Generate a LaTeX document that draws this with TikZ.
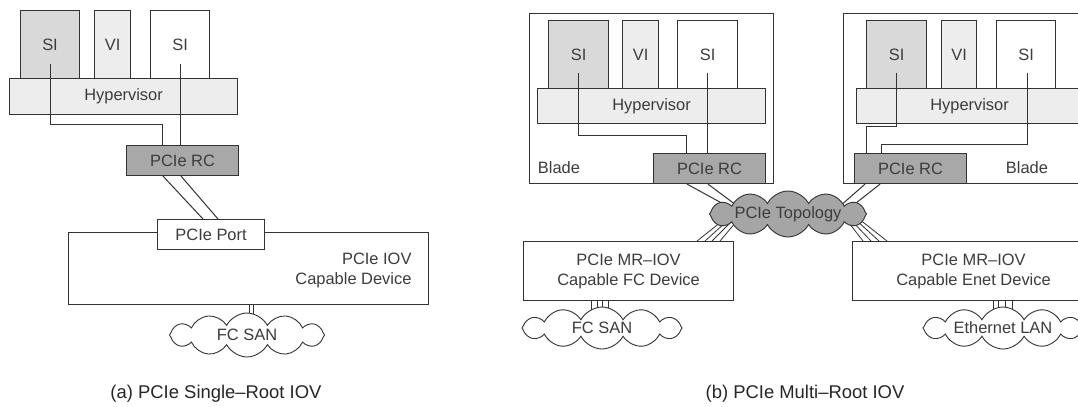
\documentclass[tikz,border=0pt]{standalone}
\usepackage{fontspec}
\setmainfont{Liberation Sans}
\usetikzlibrary{shapes.symbols,backgrounds}
\definecolor{ln}{HTML}{333333}
\definecolor{tx}{HTML}{3C3C3C}
\definecolor{siG}{HTML}{D9D9D9}
\definecolor{viG}{HTML}{EDEDED}
\definecolor{rcG}{HTML}{A8A8A8}
\definecolor{topG}{HTML}{A5A5A5}
\begin{document}
\begin{tikzpicture}[x=1bp,y=-1bp,
  every node/.style={font=\fontsize{16.5}{20}\selectfont, text=tx},
  box/.style={draw=ln, line width=1.1bp, rectangle, inner sep=0pt, anchor=north west},
  conn/.style={draw=ln, line width=1bp},
  cloudy/.style={cloud, cloud puffs=12, cloud puff arc=125, cloud ignores aspect,
    draw=ln, line width=0.9bp, fill=white, minimum width=158bp, minimum height=42bp, inner sep=0pt},
  captext/.style={font=\fontsize{18.5}{22}\selectfont, text=black!85, anchor=base}
]
\useasboundingbox (0,0) rectangle (1078,406);
\begin{scope}
\clip (0,0) rectangle (1078,406);
% ---------- (a) single root ----------
\node[box, fill=siG, minimum width=59bp, minimum height=68bp] (SI1a) at (20,10) {SI};
\node[box, fill=viG, minimum width=36bp, minimum height=68bp] (VIa) at (94,10) {VI};
\node[box, fill=white, minimum width=59bp, minimum height=68bp] (SI2a) at (150,10) {SI};
\node[box, fill=viG, minimum width=228bp, minimum height=36bp] (Hypa) at (9,78) {Hypervisor};
\node[box, fill=rcG, minimum width=112bp, minimum height=30bp] (RCa) at (126,145) {PCIe RC};
\node[box, minimum width=360bp, minimum height=72bp] (Deva) at (68,232) {};
\node[anchor=east, align=right] (DevaT) at (415,270) {PCIe IOV\\Capable Device};
\node[box, fill=white, minimum width=107bp, minimum height=30bp] (Porta) at (157,219) {PCIe Port};
\node[cloudy, minimum width=155bp, minimum height=44bp] (SANa) at (247,335) {FC SAN};

\draw[conn] ([yshift=-19bp]SI1a.center) |- ([xshift=36bp,yshift=21bp]RCa.north west) -- ([xshift=36bp]RCa.north west);
\draw[conn] ([yshift=-19bp]SI2a.center) -- (SI2a.center |- RCa.north);
\draw[conn] ([xshift=37bp]RCa.south west) -- ([xshift=46bp]Porta.north west);
\draw[conn] ([xshift=55bp]RCa.south west) -- ([xshift=61bp]Porta.north west);

% ---------- (b) multi root ----------
\node[box, minimum width=244bp, minimum height=170bp] (Blade1) at (529,13) {};
\node[box, fill=siG, minimum width=60bp, minimum height=68bp] (SI1b) at (548,20) {SI};
\node[box, fill=viG, minimum width=36bp, minimum height=68bp] (VIb) at (622,20) {VI};
\node[box, fill=white, minimum width=60bp, minimum height=68bp] (SI2b) at (677,20) {SI};
\node[box, fill=viG, minimum width=228bp, minimum height=35bp] (Hypb) at (537,88) {Hypervisor};
\node[box, fill=rcG, minimum width=112bp, minimum height=30bp] (RCb1) at (653,153) {PCIe RC};
\node (Blade1T) at (559,168) {Blade};
\draw[conn] ([yshift=-18bp]SI1b.center) |- ([xshift=33bp,yshift=18bp]RCb1.north west) -- ([xshift=33bp]RCb1.north west);
\draw[conn] ([yshift=-18bp]SI2b.center) -- (SI2b.center |- RCb1.north);

\node[box, minimum width=250bp, minimum height=170bp] (Blade2) at (843,13) {};
\node[box, fill=siG, minimum width=60bp, minimum height=68bp] (SI1c) at (866,20) {SI};
\node[box, fill=viG, minimum width=35bp, minimum height=68bp] (VIc) at (941,20) {VI};
\node[box, fill=white, minimum width=59bp, minimum height=68bp] (SI2c) at (996,20) {SI};
\node[box, fill=viG, minimum width=226bp, minimum height=35bp] (Hypc) at (856,88) {Hypervisor};
\node[box, fill=rcG, minimum width=112bp, minimum height=30bp] (RCb2) at (854,153) {PCIe RC};
\node (Blade2T) at (1027,168) {Blade};
\draw[conn] ([yshift=-18bp]SI1c.center) |- ([xshift=12bp,yshift=27bp]RCb2.north west) -- ([xshift=12bp]RCb2.north west);
\draw[conn] ([xshift=1.5bp,yshift=-18bp]SI2c.center) |- ([xshift=27bp,yshift=9bp]RCb2.north west) -- ([xshift=27bp]RCb2.north west);

\node[cloudy, fill=topG, minimum width=157bp, minimum height=46bp] (Topo) at (788,214) {PCIe Topology};

\node[box, align=center, minimum width=210bp, minimum height=59bp] (FCb) at (523,241) {PCIe MR–IOV\\Capable FC Device};
\node[box, align=center, minimum width=242bp, minimum height=59bp] (Enet) at (852,241) {PCIe MR–IOV\\Capable Enet Device};
\node[cloudy, minimum width=160bp] (SANb) at (602,328) {FC SAN};
\node[cloudy, minimum width=160bp] (LAN) at (1003,328) {Ethernet LAN};

% captions
\node[captext] (capA) at (216,398) {(a) PCIe Single–Root IOV};
\node[captext] (capB) at (805,398) {(b) PCIe Multi–Root IOV};
\end{scope}

\begin{pgfonlayer}{background}
\fill[white] (0,0) rectangle (1078,406);
% (a) device to SAN
\draw[conn] ([xshift=1bp]Deva.south) -- ([xshift=1bp]Deva.south |- SANa.center);
\draw[conn] ([xshift=5bp]Deva.south) -- ([xshift=5bp]Deva.south |- SANa.center);
% RCs to topology
\draw[conn] ([xshift=34bp]RCb1.south west) -- ([xshift=-48bp,yshift=1bp]Topo.center);
\draw[conn] ([xshift=55bp]RCb1.south west) -- ([xshift=-48bp,yshift=6bp]Topo.center);
\draw[conn] ([xshift=11bp]RCb2.south west) -- ([xshift=51bp,yshift=7bp]Topo.center);
\draw[conn] ([xshift=26bp]RCb2.south west) -- ([xshift=63bp,yshift=7bp]Topo.center);
% topology to devices
\foreach \a/\b in {174/-67,182/-62,189/-57,197/-52}
  \draw[conn, line width=0.8bp] ([xshift=\a bp]FCb.north west) -- ([xshift=\b bp,yshift=-8bp]Topo.center);
\foreach \a/\b in {11/58,19/62,27/67,35/71}
  \draw[conn, line width=0.8bp] ([xshift=\a bp]Enet.north west) -- ([xshift=\b bp,yshift=-5bp]Topo.center);
% devices to networks
\foreach \a in {68,74,79,85}
  \draw[conn, line width=0.8bp] ([xshift=\a bp]FCb.south west) -- ([xshift=\a bp]FCb.south west |- SANb.center);
\foreach \a in {141,146,153,160}
  \draw[conn, line width=0.8bp] ([xshift=\a bp]Enet.south west) -- ([xshift=\a bp]Enet.south west |- LAN.center);
\end{pgfonlayer}
\end{tikzpicture}
\end{document}
